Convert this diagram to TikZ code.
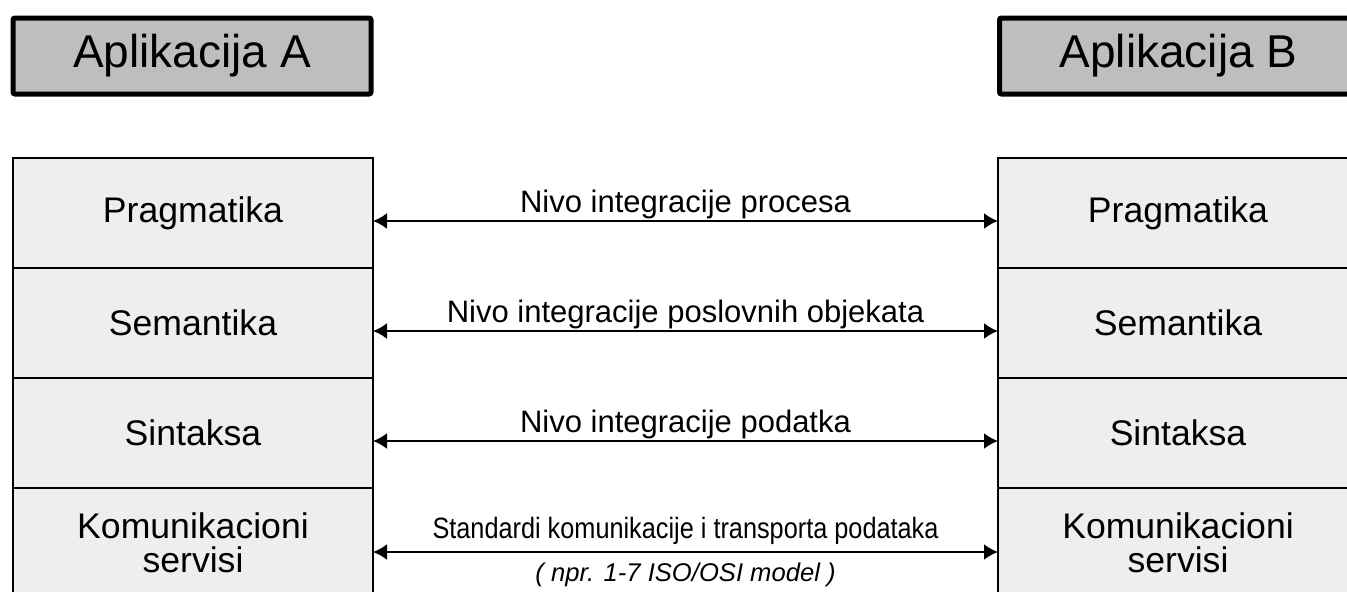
\documentclass[tikz,border=0pt]{standalone}
\usepackage{fontspec}
\setmainfont{Liberation Sans}
\newfontfamily\narrowfont[FakeStretch=0.86]{Liberation Sans}
\usetikzlibrary{positioning,arrows.meta}
\definecolor{appgray}{HTML}{BEBEBE}
\definecolor{layergray}{HTML}{EEEEEE}

\begin{document}
\begin{tikzpicture}[x=0.5pt,y=-0.5pt]
\tikzset{app/.style={draw,line width=2.5pt,rounded corners=1pt,fill=appgray,minimum width=179pt,minimum height=38pt,font=\fontsize{23}{26}\selectfont},
layer/.style={draw,line width=1.2pt,fill=layergray,minimum width=180pt,minimum height=55pt,outer sep=0pt,inner sep=0pt,align=center,font=\fontsize{17.8}{17}\selectfont},
veza/.style={{Latex[length=7pt,width=8pt]}-{Latex[length=7pt,width=8pt]},line width=1pt},
opis/.style={inner sep=0pt,anchor=base,font=\fontsize{15.5}{18}\selectfont},
}
\useasboundingbox (0,0) rectangle (1347,591);
\clip (0,0) rectangle (1347,591);

\node[app] (appA) at (192,56) {Aplikacija A};
\node[app,anchor=west] (appB) at (997,56) {Aplikacija B};

\node[layer] (a1) at (193,213) {Pragmatika};
\node[layer,below=0pt of a1] (a2) {Semantika};
\node[layer,below=0pt of a2] (a3) {Sintaksa};
\node[layer,below=0pt of a3] (a4) {Komunikacioni\\servisi};

\node[layer,right=312.5pt of a1] (b1) {Pragmatika};
\node[layer,below=0pt of b1] (b2) {Semantika};
\node[layer,below=0pt of b2] (b3) {Sintaksa};
\node[layer,below=0pt of b3] (b4) {Komunikacioni\\servisi};

\draw[veza] ([yshift=-4pt]a1.east) -- ([yshift=-4pt]b1.west)
  node[midway,opis,yshift=4.5pt] (n1) {Nivo integracije procesa};
\draw[veza] ([yshift=-4pt]a2.east) -- ([yshift=-4pt]b2.west)
  node[midway,opis,yshift=4.5pt] (n2) {Nivo integracije poslovnih objekata};
\draw[veza] ([yshift=-4pt]a3.east) -- ([yshift=-4pt]b3.west)
  node[midway,opis,yshift=4.5pt] (n3) {Nivo integracije podatka};
\draw[veza] ([yshift=-4.5pt]a4.east) -- ([yshift=-4.5pt]b4.west)
  node[midway,opis,font=\narrowfont\fontsize{14.7}{16}\selectfont,yshift=7pt] (n4) {Standardi komunikacije i transporta podataka}
  node[midway,opis,font=\itshape\fontsize{12.8}{14}\selectfont,yshift=-14.5pt] (n5) {( npr. 1-7 ISO/OSI model )};

\end{tikzpicture}
\end{document}
